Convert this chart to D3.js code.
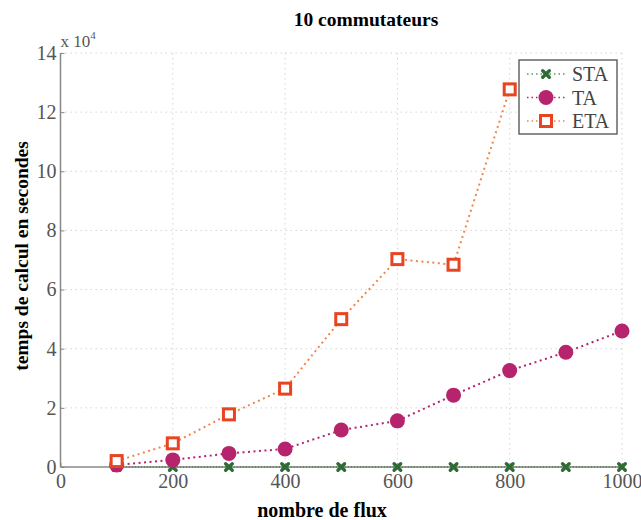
<!DOCTYPE html>
<html><head><meta charset="utf-8">
<script src="https://cdn.jsdelivr.net/npm/d3@7"></script>
<style>body{margin:0;background:#fff}svg{display:block}</style>
</head><body>
<script>
const flux = [100,200,300,400,500,600,700,800,900,1000];
const staValues = [0,0,0,0,0,0,0,0,0,0];
const taValues = [700,2400,4600,6100,12500,15600,24300,32600,38800,46000];
const etaFlux = [100,200,300,400,500,600,700,800];
const etaValues = [2000,8000,17800,26500,50000,70300,68400,127700];
const xTicks = [0,200,400,600,800,1000];
const yTicks = [0,2,4,6,8,10,12,14];
const seriesNames = ["STA","TA","ETA"];

const W=641,H=520;
const svg=d3.select("body").append("svg").attr("width",W).attr("height",H);
const L=60.5,R=622,T=53,B=467;
const x=d3.scaleLinear().domain([0,1000]).range([L,R]);
const y=d3.scaleLinear().domain([0,140000]).range([B,T]);
const serif="'Liberation Serif','DejaVu Serif',serif";

// grid
const g=svg.append("g");
g.selectAll(".vg").data(xTicks.slice(1)).enter().append("line")
 .attr("x1",d=>x(d)).attr("x2",d=>x(d)).attr("y1",T).attr("y2",B)
 .attr("stroke","#d4d4d4").attr("stroke-dasharray","1.5,3.5");
g.selectAll(".hg").data(yTicks.slice(1)).enter().append("line")
 .attr("y1",d=>y(d*1e4)).attr("y2",d=>y(d*1e4)).attr("x1",L).attr("x2",R)
 .attr("stroke","#d4d4d4").attr("stroke-dasharray","1.5,3.5");

// axes
const xa=svg.append("g").attr("transform",`translate(0,${B})`)
 .call(d3.axisBottom(x).tickValues(xTicks).tickSize(-4).tickPadding(7).tickFormat(d3.format("d")));
const ya=svg.append("g").attr("transform",`translate(${L},0)`)
 .call(d3.axisLeft(y).tickValues(yTicks.map(v=>v*1e4)).tickSize(-4).tickPadding(4).tickFormat(d=>d/1e4));
[xa,ya].forEach(a=>{
 a.select(".domain").attr("stroke","#888").attr("stroke-width",1.5);
 a.selectAll(".tick line").attr("stroke","#888");
 a.selectAll("text").attr("font-family",serif).attr("font-size",20).attr("fill","#555");
});
xa.select(".domain").attr("d",`M${L},0H${R}`);
ya.select(".domain").attr("d",`M0,${B}V${T}`);

// exponent
const ex=svg.append("text").attr("x",L).attr("y",47).attr("font-family",serif).attr("font-size",17).attr("fill","#555");
ex.append("tspan").text("x 10");
ex.append("tspan").attr("dy",-8).attr("font-size",11).text("4");

// titles
svg.append("text").attr("x",366).attr("y",26).attr("text-anchor","middle").attr("font-family",serif)
 .attr("font-weight","bold").attr("font-size",19.5).text("10 commutateurs");
svg.append("text").attr("x",322).attr("y",517).attr("text-anchor","middle").attr("font-family",serif)
 .attr("font-weight","bold").attr("font-size",20).text("nombre de flux");
svg.append("text").attr("transform","translate(28,256) rotate(-90)").attr("text-anchor","middle").attr("font-family",serif)
 .attr("font-weight","bold").attr("font-size",19.5).text("temps de calcul en secondes");

const line=d3.line().x(d=>x(d[0])).y(d=>y(d[1]));
const sta=flux.map((f,i)=>[f,staValues[i]]);
const ta=flux.map((f,i)=>[f,taValues[i]]);
const eta=etaFlux.map((f,i)=>[f,etaValues[i]]);

const cSTA="#2f6b34",cTA="#b5246c",cETA="#e8441f",cETAline="#f0864a";

function cross(sel,size,col){
 sel.append("path").attr("d",`M${-size},${-size}L${size},${size}M${-size},${size}L${size},${-size}`)
  .attr("stroke",col).attr("stroke-width",3.4).attr("stroke-linecap","round");
}
function square(sel,col){
 sel.append("rect").attr("x",-5.5).attr("y",-5.5).attr("width",11).attr("height",11)
  .attr("fill","#fff").attr("stroke",col).attr("stroke-width",3);
}

// STA line
svg.append("path").attr("d",line(sta)).attr("fill","none").attr("stroke","#5a7a5a").attr("stroke-width",1.5).attr("stroke-dasharray","1.5,1.5");
// ETA line
svg.append("path").attr("d",line(eta)).attr("fill","none").attr("stroke",cETAline).attr("stroke-width",2).attr("stroke-dasharray","2,3.5");
// TA line
svg.append("path").attr("d",line(ta)).attr("fill","none").attr("stroke",cTA).attr("stroke-width",2).attr("stroke-dasharray","2,3.5");

// markers
svg.selectAll(".sta").data(sta).enter().append("g").attr("transform",d=>`translate(${x(d[0])},${y(d[1])})`).each(function(){cross(d3.select(this),3.3,cSTA);});
svg.selectAll(".ta").data(ta).enter().append("circle").attr("cx",d=>x(d[0])).attr("cy",d=>y(d[1])).attr("r",7.5).attr("fill",cTA);
svg.selectAll(".eta").data(eta).enter().append("g").attr("transform",d=>`translate(${x(d[0])},${y(d[1])})`).each(function(){square(d3.select(this),cETA);});

// legend
const lg=svg.append("g");
lg.append("rect").attr("x",519).attr("y",60).attr("width",98).attr("height",74).attr("fill","#fff").attr("stroke","#666").attr("stroke-width",1.5);
seriesNames.forEach((n,i)=>{
 const yy=74+i*23.5;
 const col=[ "#5a9a5a",cTA,cETAline][i];
 lg.append("line").attr("x1",527).attr("x2",566).attr("y1",yy).attr("y2",yy).attr("stroke",col).attr("stroke-width",1.5).attr("stroke-dasharray","1.5,3");
 const m=lg.append("g").attr("transform",`translate(546,${yy})`);
 if(i===0) cross(m,3.3,cSTA);
 else if(i===1) m.append("circle").attr("r",7.5).attr("fill",cTA);
 else square(m,cETA);
 lg.append("text").attr("x",572).attr("y",yy+7).attr("font-family",serif).attr("font-size",20).attr("fill","#444").text(n);
});
</script>
</body></html>
